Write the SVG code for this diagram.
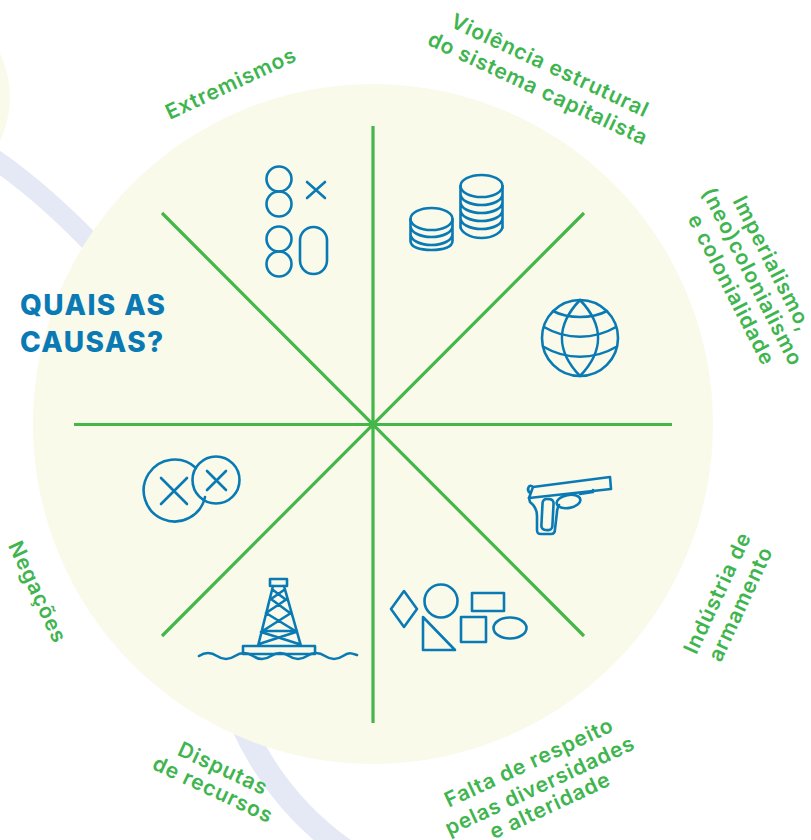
<svg xmlns="http://www.w3.org/2000/svg" width="811" height="840" viewBox="0 0 811 840">
<style>
.lbl{font-family:"Inter","Liberation Sans",sans-serif;font-weight:600;font-size:21px;letter-spacing:0.9px;fill:#3fb54f;text-anchor:middle}
.ic{fill:none;stroke:#0a7ab5;stroke-width:2.6;stroke-linejoin:round;stroke-linecap:round}
.sp{stroke:#45b649;stroke-width:3.2;fill:none}
.bg{fill:#f9faea}
.band{fill:none;stroke:#e5e8f5}
</style>
<rect width="811" height="840" fill="#fff"/>
<circle class="bg" cx="-90" cy="97" r="100"/>
<path class="band" stroke-width="20" d="M-10 156C30 183 65 215 100 252"/>
<path class="band" stroke-width="23" d="M240 720C262 770 295 815 345 850"/>
<circle class="bg" cx="373" cy="424" r="340"/>
<g id="connectors">
<path class="sp" d="M373 126V723M74 424.500H672M162 213L584 636M584 213L162 636"/>
</g>
<g id="title"><text font-family="Inter,'Liberation Sans',sans-serif" font-weight="800" font-size="28" letter-spacing="1.4" fill="#0a7ab5"><tspan x="20" y="315">QUAIS AS</tspan><tspan x="20" y="352">CAUSAS?</tspan></text></g>
<g id="extremismos">
<text class="lbl" transform="translate(234,90) rotate(-25)">Extremismos</text>
<g class="ic"><circle cx="279" cy="179" r="12.500"/><circle cx="279" cy="204" r="12.500"/><path d="M307 182L325 198M325 182L307 198"/><circle cx="279" cy="239" r="12.500"/><circle cx="279" cy="264" r="12.500"/><rect x="300" y="227" width="27" height="47" rx="13.500"/></g>
</g>
<g id="violencia">
<text class="lbl" transform="translate(547,72) rotate(25)">Violência estrutural</text>
<text class="lbl" transform="translate(535,95) rotate(25)">do sistema capitalista</text>
<g class="ic"><ellipse cx="431.500" cy="219" rx="21" ry="11"/><path d="M410.500 219V241M452.500 219V241M410.500 226c0 6 9 11 21 11s21-5 21-11M410.500 234c0 6 9 11 21 11s21-5 21-11M410.500 241c0 6 9 9 21 9s21-3 21-9"/><ellipse cx="481.500" cy="186" rx="21" ry="11"/><path d="M460.500 186V228M502.500 186V228M460.500 194c0 6 9 11 21 11s21-5 21-11M460.500 202c0 6 9 11 21 11s21-5 21-11M460.500 210c0 6 9 11 21 11s21-5 21-11M460.500 218c0 6 9 11 21 11s21-5 21-11M460.500 226c0 6 9 12 21 12s21-6 21-12"/></g>
</g>
<g id="imperialismo">
<text class="lbl" transform="translate(766,267) rotate(63)">Imperialismo,</text>
<text class="lbl" transform="translate(746,280) rotate(63)">(neo)colonialismo</text>
<text class="lbl" transform="translate(725,293) rotate(63)">e colonialidade</text>
<g class="ic"><circle cx="580" cy="338" r="38"/><path d="M580 300C556 325 556 351 580 376C604 351 604 325 580 300Z"/><path d="M553 311c15 8 39 8 54 0M544 327c22 13 50 13 72 0M544 347c22 13 50 13 72 0"/></g>
</g>
<g id="industria">
<text class="lbl" transform="translate(724,596) rotate(-65)">Indústria de</text>
<text class="lbl" transform="translate(747,607) rotate(-65)">armamento</text>
<g class="ic"><path d="M533 487L610 477L611 489L529 498ZM533 487C529 483 526 490 530 493"/><path d="M580 494L593 492V490M529 498L530 502C534 505 537 510 537 516L537 530C537 533 538 534 541 534H551C554 534 555 532 555 529L557 512C557 509 558 507 559 505"/><rect x="542" y="499" width="11" height="31" rx="4" transform="rotate(3 547 514)"/><ellipse cx="568.500" cy="501.500" rx="12" ry="6.500" transform="rotate(-10 568.500 501.500)"/></g>
</g>
<g id="falta">
<text class="lbl" transform="translate(532,769) rotate(-25)">Falta de respeito</text>
<text class="lbl" transform="translate(543,792) rotate(-25)">pelas diversidades</text>
<text class="lbl" transform="translate(553,812) rotate(-25)">e alteridade</text>
<g class="ic"><path d="M404 591L417 609L404 627L391 609Z"/><circle cx="441" cy="601" r="16.500"/><path d="M423 617L455 650H423Z"/><rect x="472" y="593" width="32" height="18"/><rect x="461" y="617" width="25" height="25"/><ellipse cx="510" cy="628" rx="16.500" ry="10.500"/></g>
</g>
<g id="disputas">
<text class="lbl" transform="translate(220,775) rotate(25)">Disputas</text>
<text class="lbl" transform="translate(210,796) rotate(25)">de recursos</text>
<g class="ic"><rect x="270" y="579" width="17" height="7"/><path d="M273 586L258 646M284 586L301 646M243 646H315V654H243ZM273 590L285 599M284 590L271 599M271 599L290 613M287 599L266 613M266 613L297 632M291 613L261 632M261 632L299 644M296 632L259 644M262 631H297"/><path d="M199 656c6-4 12-4 18 0s12 4 18 0s12-4 18 0s12 4 18 0s12-4 18 0s12 4 18 0s12-4 18 0s12 4 18 0s8-3 14-1"/></g>
</g>
<g id="negacoes">
<text class="lbl" transform="translate(31,595) rotate(65)">Negações</text>
<g class="ic"><path d="M196 468A31 31 0 1 0 205 497"/><path d="M161 478L187 504M187 478L161 504"/><circle cx="216" cy="480" r="23.500"/><path d="M207 471L226 490M226 471L207 490"/></g>
</g>
</svg>
